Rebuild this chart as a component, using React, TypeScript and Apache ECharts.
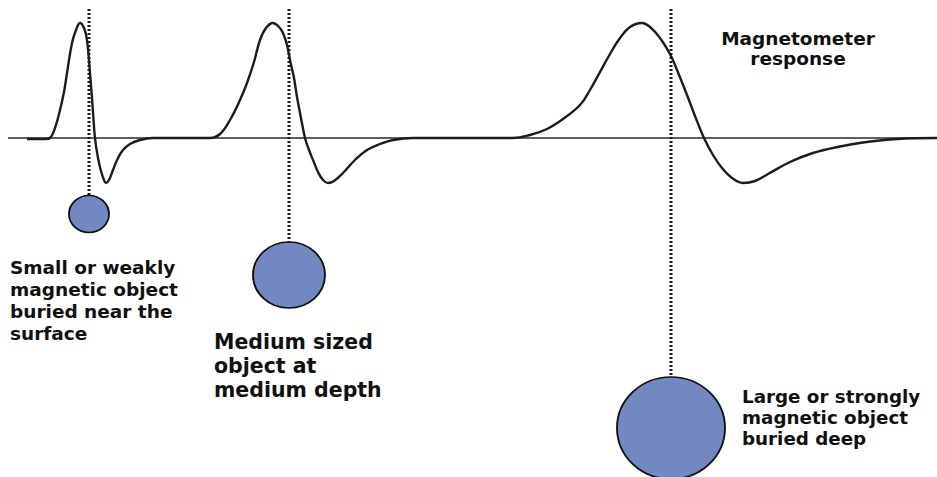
import React, { useEffect, useRef } from "react";
import * as echarts from "echarts";

// Horizontal position (px along the survey line) and magnetometer response (relative to baseline)
const curveX = [
  27, 45, 50, 55, 60, 64, 67, 72, 76, 80, 84, 87, 90, 92.5, 95, 98, 101, 104, 106, 109, 113, 118, 123, 130, 140, 153,
  210, 220, 230, 240, 247, 254, 260, 266, 273, 279, 283, 287, 290, 294, 297, 301, 305, 309, 313, 318, 323, 328, 334, 343, 355, 367, 380, 393, 413,
  513, 530, 547, 563, 580, 590, 600, 610, 620, 630, 642, 650, 660, 670, 677, 687, 695, 704, 713, 722, 732, 743, 755, 768, 790, 813, 840, 863, 897, 937,
];
const curveY = [
  -1, -1, 0, 10, 28, 46, 65, 95, 108, 115, 110, 98, 65, 33, 0, -20, -33, -42, -45, -42, -32, -20, -12, -6, -2, 0,
  0, 4, 18, 38, 55, 76, 98, 110, 115, 111, 105, 93, 78, 60, 41, 20, 0, -12, -22, -34, -42, -45, -43, -35, -22, -12, -6, -2, 0,
  0, 3, 9, 19, 33, 48, 66, 84, 100, 111, 115, 111, 100, 84, 68, 43, 22, 0, -17, -30, -40, -45, -43, -36, -24, -15, -8.5, -4.5, -1, 0,
];

// Buried objects: centre x, centre depth (negative = below baseline), width, height
const objX = [89, 289, 671];
const objDepth = [-76, -137, -290];
const objW = [40, 72, 108];
const objH = [37, 66, 102];
const lineTop = 129;
const lineBottom = [-58, -104, -239];

const baseX = [8, 937];

const labelSmall = ["Small or weakly", "magnetic object", "buried near the", "surface"];
const labelMedium = ["Medium sized", "object at", "medium depth"];
const labelLarge = ["Large or strongly", "magnetic object", "buried deep"];
const labelTitle = ["Magnetometer", "response"];

const ellipsePath = "path://M50 0A50 50 0 1 1 50 100A50 50 0 1 1 50 0Z";

export default function App() {
  const ref = useRef<HTMLDivElement>(null);
  useEffect(() => {
    if (!ref.current) return;
    const chart = echarts.init(ref.current, null, { renderer: "svg" });
    const font = "DejaVu Sans";
    const series: any[] = [
      {
        type: "line",
        data: baseX.map((x) => [x, 0]),
        symbol: "none",
        lineStyle: { color: "#2a2a2a", width: 1.6 },
        silent: true,
        z: 1,
      },
      {
        type: "line",
        data: curveX.map((x, i) => [x, curveY[i]]),
        smooth: 0.4,
        symbol: "none",
        lineStyle: { color: "#1c1c1c", width: 2.4 },
        z: 3,
      },
    ];
    objX.forEach((x, i) => {
      series.push({
        type: "line",
        data: [
          [x, lineTop],
          [x, lineBottom[i]],
        ],
        symbol: "none",
        lineStyle: { color: "#1a1a1a", width: 3, type: [2, 2], cap: "butt" },
        z: 2,
      });
    });
    series.push({
      type: "scatter",
      data: objX.map((x, i) => ({
        value: [x, objDepth[i]],
        symbolSize: [objW[i], objH[i]],
      })),
      symbol: ellipsePath,
      itemStyle: { color: "#7189c0", borderColor: "#111", borderWidth: 1.8, opacity: 1 },
      clip: false,
      z: 4,
    });
    const textStyle = (lines: string[], size: number, lh: number, align = "left") => ({
      text: lines.join("\n"),
      font: `bold ${size}px "${font}"`,
      fill: "#111",
      lineHeight: lh,
      align,
      verticalAlign: "top",
    });
    chart.setOption({
      animation: false,
      grid: { left: 0, right: 0, top: 0, bottom: 0 },
      xAxis: { type: "value", min: 0, max: 937, show: false },
      yAxis: { type: "value", min: -339, max: 138, show: false },
      series,
      graphic: [
        { type: "text", x: 10, y: 256, style: textStyle(labelSmall, 18.5, 22) },
        { type: "text", x: 214, y: 330, style: textStyle(labelMedium, 20.5, 24) },
        { type: "text", x: 742, y: 386, style: textStyle(labelLarge, 18.3, 21) },
        { type: "text", x: 798, y: 28, style: textStyle(labelTitle, 18.5, 20, "center") },
      ],
    });
    return () => chart.dispose();
  }, []);
  return (
    <div
      ref={ref}
      style={{ position: "fixed", left: 0, top: 0, width: 937, height: 477, background: "#fff" }}
    />
  );
}
